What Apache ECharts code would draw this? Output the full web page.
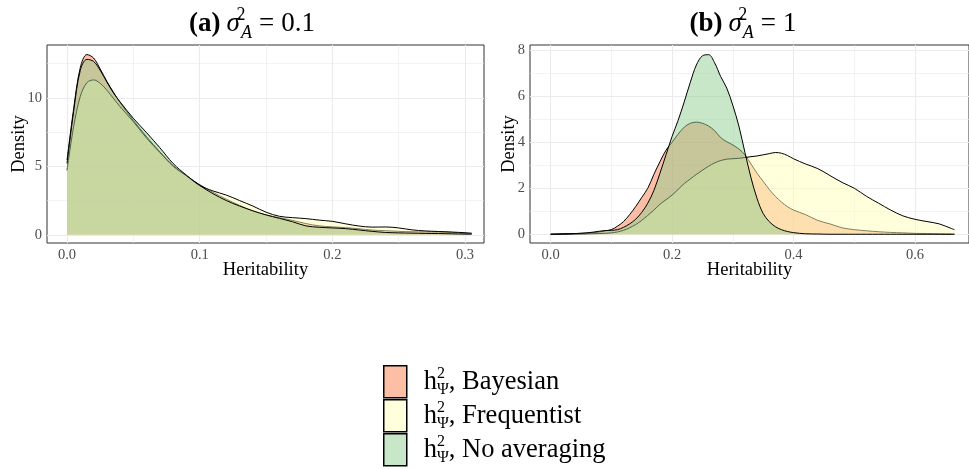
<!DOCTYPE html>
<html>
<head>
<meta charset="utf-8">
<script src="https://cdn.jsdelivr.net/npm/echarts@6/dist/echarts.min.js"></script>
<style>html,body{margin:0;padding:0;background:#fff}#c{width:969px;height:469px}</style>
</head>
<body>
<div id="c"></div>
<script>
// ---------- DATA ----------
var seriesNames = ['Bayesian', 'Frequentist', 'No averaging'];

// Panel (a): sigma^2_A = 0.1
var hA = [0, 0.005, 0.01, 0.015, 0.02, 0.025, 0.03, 0.035, 0.04, 0.05, 0.06, 0.07, 0.08, 0.09, 0.1,
  0.11, 0.12, 0.13, 0.14, 0.15, 0.16, 0.17, 0.18, 0.19, 0.2, 0.21, 0.22, 0.23, 0.24, 0.25,
  0.26, 0.27, 0.28, 0.29, 0.3, 0.305];
var bayesA = [5.45, 9.2, 12.2, 13.15, 12.9, 12.1, 11.2, 10.4, 9.65, 8.35, 7.15, 6.05, 5.05, 4.3, 3.65,
  3.1, 2.6, 2.15, 1.75, 1.45, 1.25, 1.05, 0.82, 0.65, 0.58, 0.52, 0.44, 0.34, 0.3, 0.25,
  0.22, 0.21, 0.2, 0.17, 0.1, 0.08];
var freqA = [4.7, 7.9, 10.1, 11.1, 11.3, 11.05, 10.55, 9.95, 9.35, 8.25, 7.05, 6.0, 5.0, 4.3, 3.6,
  3.2, 2.9, 2.5, 2.1, 1.65, 1.35, 1.25, 1.18, 1.07, 0.98, 0.8, 0.64, 0.56, 0.57, 0.5,
  0.36, 0.28, 0.24, 0.2, 0.15, 0.12];
var noAvgA = [5.2, 9.0, 12.0, 12.8, 12.65, 12.0, 11.15, 10.35, 9.7, 8.5, 7.45, 6.35, 5.2, 4.35, 3.6,
  3.0, 2.5, 2.1, 1.75, 1.45, 1.2, 0.95, 0.65, 0.55, 0.5, 0.45, 0.35, 0.25, 0.17, 0.14,
  0.12, 0.1, 0.09, 0.07, 0.05, 0.04];

// Panel (b): sigma^2_A = 1
var hB = [0, 0.02, 0.04, 0.06, 0.08, 0.09, 0.1, 0.11, 0.12, 0.13, 0.14, 0.15, 0.16, 0.17, 0.18, 0.19,
  0.2, 0.21, 0.22, 0.23, 0.24, 0.25, 0.26, 0.27, 0.28, 0.29, 0.3, 0.31, 0.32, 0.33, 0.34,
  0.35, 0.36, 0.37, 0.38, 0.39, 0.4, 0.42, 0.44, 0.46, 0.48, 0.5, 0.52, 0.54, 0.56, 0.58,
  0.6, 0.62, 0.64, 0.66, 0.665];
var bayesB = [0, 0.02, 0.03, 0.05, 0.1, 0.15, 0.2, 0.35, 0.55, 0.85, 1.2, 1.6, 2.0, 2.6, 3.15, 3.65,
  4.0, 4.35, 4.65, 4.82, 4.87, 4.82, 4.7, 4.5, 4.2, 4.02, 3.88, 3.7, 3.45, 3.05, 2.65,
  2.3, 1.95, 1.65, 1.4, 1.2, 1.05, 0.85, 0.6, 0.45, 0.28, 0.2, 0.15, 0.11, 0.08, 0.06,
  0.04, 0.03, 0.02, 0.01, 0.01];
var freqB = [0, 0, 0.01, 0.02, 0.03, 0.04, 0.06, 0.1, 0.17, 0.28, 0.42, 0.6, 0.82, 1.05, 1.3, 1.5,
  1.7, 1.95, 2.2, 2.4, 2.6, 2.78, 2.95, 3.1, 3.2, 3.26, 3.28, 3.3, 3.33, 3.37, 3.4,
  3.45, 3.5, 3.55, 3.52, 3.42, 3.28, 3.05, 2.85, 2.55, 2.25, 2.0, 1.65, 1.35, 1.05, 0.8,
  0.65, 0.55, 0.45, 0.25, 0.2];
var noAvgB = [0, 0.01, 0.03, 0.06, 0.13, 0.16, 0.17, 0.2, 0.3, 0.45, 0.65, 0.95, 1.35, 1.9, 2.65, 3.45,
  4.25, 4.95, 5.75, 6.6, 7.35, 7.75, 7.8, 7.45, 6.85, 6.35, 5.6, 4.7, 3.55, 2.45, 1.55,
  0.9, 0.55, 0.33, 0.2, 0.12, 0.07, 0.02, 0.01, 0, 0, 0, 0, 0, 0, 0,
  0, 0, 0, 0, 0];

// Axis ticks
var xTicksA = [0, 0.1, 0.2, 0.3];
var xMinorA = [0.05, 0.15, 0.25];
var yTicksA = [0, 5, 10];
var yMinorA = [2.5, 7.5, 12.5];
var xTicksB = [0, 0.2, 0.4, 0.6];
var xMinorB = [0.1, 0.3, 0.5];
var yTicksB = [0, 2, 4, 6, 8];
var yMinorB = [1, 3, 5, 7];

// ---------- STYLE ----------
var FONT = 'Liberation Serif';
var fillColors = ['#F97D4B', '#FFFFB9', '#91CD91'];
var legendColors = ['#FCBEA5', '#FFFFDC', '#C8E6C8'];

function pairs(xs, ys) { return xs.map(function (x, i) { return [x, ys[i]]; }); }

function gridLines(xMaj, xMin, yMaj, yMin) {
  var d = [];
  xMin.forEach(function (v) { d.push({ xAxis: v, lineStyle: { width: 0.6 } }); });
  yMin.forEach(function (v) { d.push({ yAxis: v, lineStyle: { width: 0.6 } }); });
  xMaj.forEach(function (v) { d.push({ xAxis: v, lineStyle: { width: 1.1 } }); });
  yMaj.forEach(function (v) { d.push({ yAxis: v, lineStyle: { width: 1.1 } }); });
  return {
    silent: true, symbol: ['none', 'none'], z: 1, animation: false,
    label: { show: false },
    lineStyle: { color: '#EBEBEB', type: 'solid' },
    emphasis: { disabled: true },
    data: d
  };
}

function mkSeries(name, idx, gi, xs, ys, ml) {
  var s = {
    name: name, type: 'line', xAxisIndex: gi, yAxisIndex: gi,
    data: pairs(xs, ys), smooth: 0.35, symbol: 'none', z: 2 + idx,
    lineStyle: { color: '#000', width: 1 },
    itemStyle: { color: legendColors[idx] },
    areaStyle: { color: fillColors[idx], opacity: 0.5, origin: 0 },
    emphasis: { disabled: true },
    animation: false
  };
  if (ml) s.markLine = ml;
  return s;
}

function xAxisCfg(gi, min, max, ticks) {
  return {
    type: 'value', gridIndex: gi, min: min, max: max,
    name: 'Heritability', nameLocation: 'middle', nameGap: 18, nameMoveOverlap: false,
    nameTextStyle: { fontFamily: FONT, fontSize: 18.5, color: '#000' },
    axisLine: { show: false },
    axisTick: { show: true, length: 3, customValues: ticks, lineStyle: { color: '#333', width: 1 } },
    axisLabel: { customValues: ticks, margin: 5, color: '#4D4D4D', fontFamily: FONT, fontSize: 14.5,
      formatter: function (v) { return v.toFixed(1); } },
    splitLine: { show: false }
  };
}
function yAxisCfg(gi, min, max, ticks, gap) {
  return {
    type: 'value', gridIndex: gi, min: min, max: max,
    name: 'Density', nameLocation: 'middle', nameGap: gap, nameMoveOverlap: false,
    nameTextStyle: { fontFamily: FONT, fontSize: 18.5, color: '#000' },
    axisLine: { show: false },
    axisTick: { show: true, length: 3, customValues: ticks, lineStyle: { color: '#333', width: 1 } },
    axisLabel: { customValues: ticks, margin: 5, color: '#4D4D4D', fontFamily: FONT, fontSize: 14.5,
      formatter: function (v) { return String(Math.round(v)); } },
    splitLine: { show: false }
  };
}

var titleRich = {
  b: { fontFamily: FONT, fontSize: 27, fontWeight: 'bold', color: '#000', lineHeight: 36, padding: [0, 6, 0, 0] },
  i: { fontFamily: FONT, fontSize: 27, fontWeight: 'normal', fontStyle: 'italic', color: '#000', lineHeight: 36 },
  sup: { fontFamily: FONT, fontSize: 18, fontWeight: 'normal', color: '#000', verticalAlign: 'top', width: 0, lineHeight: 14, padding: [0, 0, 0, 1] },
  sub: { fontFamily: FONT, fontSize: 18, fontWeight: 'normal', fontStyle: 'italic', color: '#000', verticalAlign: 'bottom', lineHeight: 15 },
  eq: { fontFamily: FONT, fontSize: 27, fontWeight: 'normal', color: '#000', lineHeight: 36, padding: [0, 7, 0, 7] },
  n: { fontFamily: FONT, fontSize: 27, fontWeight: 'normal', color: '#000', lineHeight: 36 }
};

function legendCfg(i, top) {
  return {
    orient: 'vertical', left: 383, top: top, padding: 0,
    itemWidth: 23, itemHeight: 32, itemGap: 0, icon: 'rect',
    selectedMode: false,
    data: [{ name: seriesNames[i], icon: 'rect', itemStyle: { color: legendColors[i], borderColor: '#000', borderWidth: 1.5 } }],
    formatter: function (name) { return '{h|h}{sup|2}{sub|Ψ}{t|, ' + name + '}'; },
    textStyle: {
      padding: [0, 0, 0, 12],
      rich: {
        h: { fontFamily: FONT, fontSize: 26.5, color: '#000', lineHeight: 32 },
        sup: { fontFamily: FONT, fontSize: 16, color: '#000', verticalAlign: 'top', width: 0, lineHeight: 14 },
        sub: { fontFamily: FONT, fontSize: 16, color: '#000', verticalAlign: 'bottom', lineHeight: 14 },
        t: { fontFamily: FONT, fontSize: 26.5, color: '#000', lineHeight: 32 }
      }
    }
  };
}

var option = {
  backgroundColor: '#fff',
  animation: false,
  title: [
    { text: '{b|(a)}{i|σ}{sup|2}{sub|A}{eq|=}{n|0.1}', left: 247, top: 1, textAlign: 'center',
      textStyle: { fontWeight: 'normal', rich: titleRich } },
    { text: '{b|(b)}{i|σ}{sup|2}{sub|A}{eq|=}{n|1}', left: 738, top: 1, textAlign: 'center',
      textStyle: { fontWeight: 'normal', rich: titleRich } }
  ],
  grid: [
    { left: 47, top: 45, width: 437, height: 198, show: true, backgroundColor: '#fff', borderColor: '#333', borderWidth: 1 },
    { left: 530, top: 45, width: 441, height: 198, show: true, backgroundColor: '#fff', borderColor: '#333', borderWidth: 1 }
  ],
  xAxis: [
    xAxisCfg(0, -0.0151, 0.3143, xTicksA),
    xAxisCfg(1, -0.034, 0.6890, xTicksB)
  ],
  yAxis: [
    yAxisCfg(0, -0.6, 13.85, yTicksA, 18),
    yAxisCfg(1, -0.38, 8.22, yTicksB, 11)
  ],
  legend: [legendCfg(0, 365), legendCfg(1, 399), legendCfg(2, 433)],
  series: [
    mkSeries(seriesNames[0], 0, 0, hA, bayesA, gridLines(xTicksA, xMinorA, yTicksA, yMinorA)),
    mkSeries(seriesNames[1], 1, 0, hA, freqA),
    mkSeries(seriesNames[2], 2, 0, hA, noAvgA),
    mkSeries(seriesNames[0], 0, 1, hB, bayesB, gridLines(xTicksB, xMinorB, yTicksB, yMinorB)),
    mkSeries(seriesNames[1], 1, 1, hB, freqB),
    mkSeries(seriesNames[2], 2, 1, hB, noAvgB)
  ]
};

var chart = echarts.init(document.getElementById('c'), null, { renderer: 'canvas' });
chart.setOption(option);
</script>
</body>
</html>
